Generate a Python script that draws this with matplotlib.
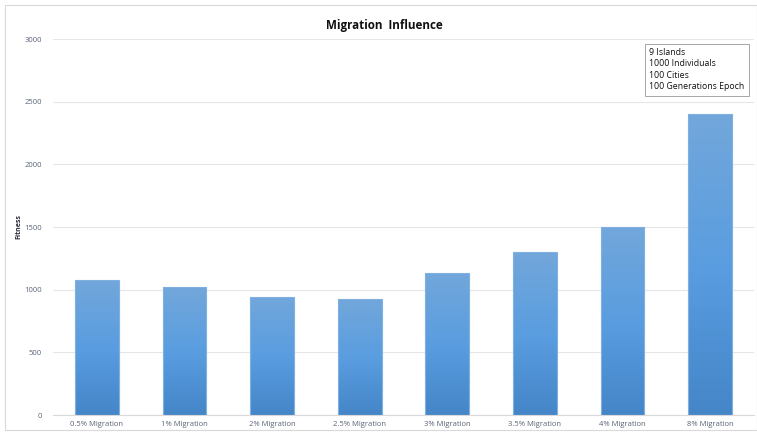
import numpy as np
import matplotlib
matplotlib.use("Agg")
import matplotlib.pyplot as plt
from matplotlib.colors import LinearSegmentedColormap
from matplotlib.patches import Rectangle

categories = ["0.5% Migration", "1% Migration", "2% Migration", "2.5% Migration",
              "3% Migration", "3.5% Migration", "4% Migration", "8% Migration"]
fitness = [1080, 1020, 945, 925, 1130, 1300, 1500, 2400]
y_ticks = [0, 500, 1000, 1500, 2000, 2500, 3000]
info_lines = ["9 Islands", "1000 Individuals", "100 Cities", "100 Generations Epoch"]

plt.rcParams["font.family"] = ["Open Sans", "DejaVu Sans"]

fig = plt.figure(figsize=(7.57, 4.32), dpi=100)
fig.patch.set_facecolor("white")
# outer chart-area border
fig.patches.append(Rectangle((5 / 757, 2 / 432), 752 / 757, 425 / 432, transform=fig.transFigure,
                             fill=False, edgecolor="#d9d9d9", linewidth=0.8))

ax = fig.add_axes([53 / 757, 17 / 432, 701 / 757, 376 / 432])
x = np.arange(len(categories))
bars = ax.bar(x, fitness, width=0.5, color="#5b9bd5", edgecolor="#7fb0e0", linewidth=0.8, zorder=2)

# vertical gradient fill, lighter at the top of each bar
grad_cmap = LinearSegmentedColormap.from_list("barfill", ["#4486c8", "#5a9de0", "#72a7db"])
grad = np.linspace(0, 1, 256).reshape(-1, 1)
for b in bars:
    x0, y0 = b.get_x(), b.get_y()
    w, h = b.get_width(), b.get_height()
    im = ax.imshow(grad, cmap=grad_cmap, origin="lower", aspect="auto",
                   extent=(x0, x0 + w, y0, y0 + h), zorder=2.5)
    im.set_clip_path(b)
    b.set_facecolor("none")
    b.set_zorder(3)

ax.set_xlim(-0.5, len(categories) - 0.5)
ax.set_ylim(0, 3000)
ax.set_yticks(y_ticks)
ax.set_yticklabels([str(v) for v in y_ticks])
ax.set_xticks(x)
ax.set_xticklabels(categories)
ax.tick_params(axis="both", length=0, labelsize=5.5, labelcolor="#5a6478")
ax.tick_params(axis="y", pad=8)
ax.tick_params(axis="x", pad=4)
ax.grid(axis="y", color="#e6e6e6", linewidth=0.8, zorder=0)
for s in ["top", "right", "left"]:
    ax.spines[s].set_visible(False)
ax.spines["bottom"].set_color("#d9d9d9")
ax.spines["bottom"].set_linewidth(0.8)
ax.set_facecolor("none")

ax.set_ylabel("Fitness", fontsize=5, fontweight="bold", color="#2a2a3a")
ax.yaxis.set_label_coords(-31 / 701, 0.5)

fig.text(384 / 757, 1 - 26 / 432, "Migration  Influence", ha="center", va="center",
         fontsize=8.4, fontweight="bold", color="#111111")

fig.text(649 / 757, 1 - 48 / 432, "\n".join(info_lines), ha="left", va="top",
         fontsize=6.3, color="#111111", linespacing=1.35,
         bbox=dict(boxstyle="square,pad=0.5", facecolor="white", edgecolor="#a6a6a6", linewidth=0.7))

fig.savefig("out.png", dpi=100)
